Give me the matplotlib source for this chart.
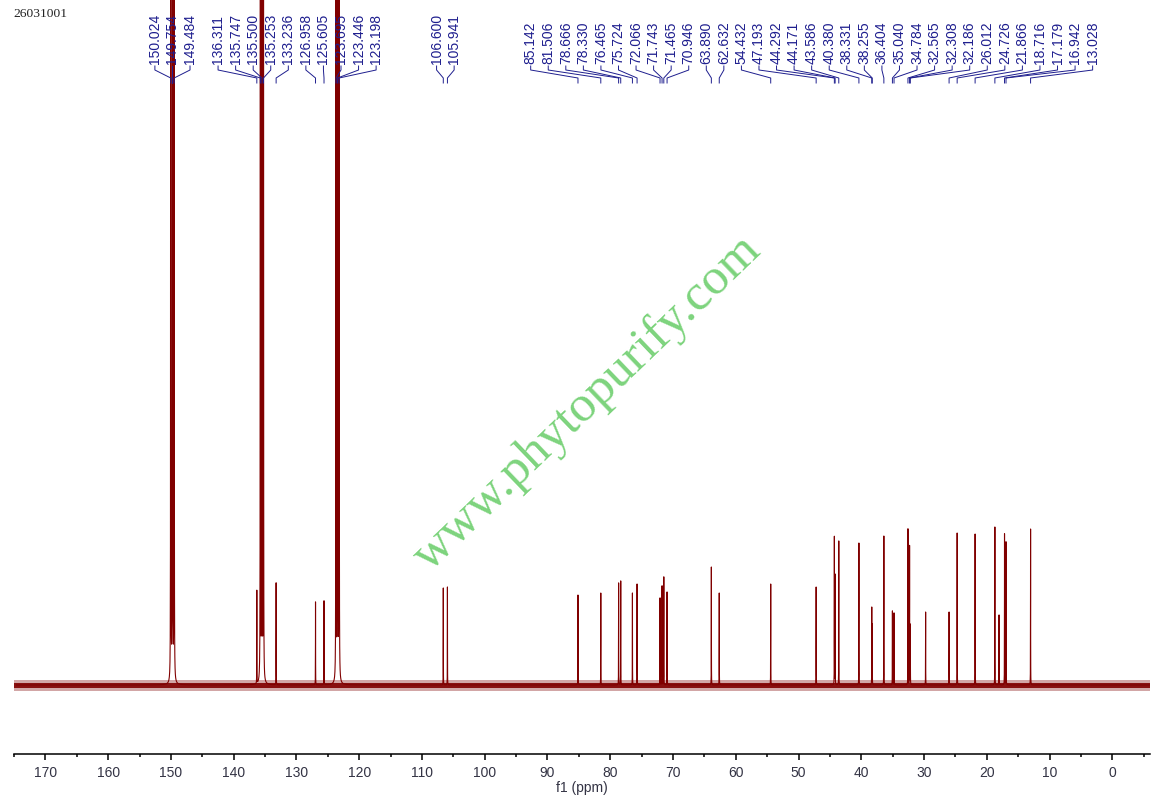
import numpy as np
import matplotlib
matplotlib.use("Agg")
import matplotlib.pyplot as plt
from matplotlib.transforms import blended_transform_factory

# ---------------- data ----------------
sample_id = "26031001"
watermark = "www.phytopurify.com"

# peak positions (ppm) and heights (arbitrary intensity units)
peak_ppm = [150.024, 149.754, 149.484, 136.311, 135.747, 135.500, 135.253, 133.236,
            126.958, 125.605, 123.695, 123.446, 123.198, 106.600, 105.941, 85.142,
            81.506, 78.666, 78.330, 76.465, 75.724, 72.066, 71.743, 71.465, 70.946,
            63.890, 62.632, 54.432, 47.193, 44.292, 44.171, 43.586, 40.380, 38.331,
            38.255, 36.404, 35.040, 34.784, 32.565, 32.308, 32.186, 29.75, 26.012,
            24.726, 21.866, 18.716, 18.05, 17.179, 16.942, 13.028]
peak_height = [30000, 40000, 30000, 93, 30000, 40000, 30000, 102,
               83, 84, 30000, 40000, 30000, 97, 98, 90,
               92, 102, 104, 92, 101, 87, 99, 108, 93,
               118, 92, 101, 98, 148, 110, 144, 142, 77,
               60, 149, 74, 72, 156, 139, 60, 73, 73,
               152, 151, 158, 70, 151, 143, 156]
solvent_ppm = [150.024, 149.754, 149.484, 135.747, 135.500, 135.253, 123.695, 123.446, 123.198]

# peak labels printed above the spectrum
label_ppm = [150.024, 149.754, 149.484, 136.311, 135.747, 135.500, 135.253, 133.236,
             126.958, 125.605, 123.695, 123.446, 123.198, 106.600, 105.941, 85.142,
             81.506, 78.666, 78.330, 76.465, 75.724, 72.066, 71.743, 71.465, 70.946,
             63.890, 62.632, 54.432, 47.193, 44.292, 44.171, 43.586, 40.380, 38.331,
             38.255, 36.404, 35.040, 34.784, 32.565, 32.308, 32.186, 26.012, 24.726,
             21.866, 18.716, 17.179, 16.942, 13.028]

x_ticks = list(range(170, -1, -10))

# ---------------- figure ----------------
W, H = 1161, 807
fig = plt.figure(figsize=(W / 100, H / 100), dpi=100)
ax = fig.add_axes([14 / W, 53 / H, 1136 / W, 754 / H])
ax.set_xlim(174.6, -6.0)
ax.set_ylim(-69, 685)

# spectrum built from the peak list (Lorentzian lines)
grid = np.arange(-6.0, 174.6, 0.004)
x = np.sort(np.concatenate([grid, np.array(peak_ppm)]))
y = np.zeros_like(x)
for p, h in zip(peak_ppm, peak_height):
    hw = 0.0032 if p in solvent_ppm else 0.01
    y += h * hw ** 2 / ((x - p) ** 2 + hw ** 2)

dark_red = "#800000"
# baseline noise band
ax.axhspan(-5.5, 5.5, color=dark_red, alpha=0.35, lw=0)
ax.axhspan(-2.5, 2.5, color=dark_red, alpha=0.9, lw=0)
ax.plot(x, y, color=dark_red, lw=0.8)

# axes styling
for s in ["left", "right", "top"]:
    ax.spines[s].set_visible(False)
ax.spines["bottom"].set_linewidth(1.1)
ax.set_yticks([])
ax.set_xticks(x_ticks)
ax.set_xticks(np.arange(175, -6, -5), minor=True)
ax.tick_params(axis="x", which="major", direction="out", length=4.5, width=1.1,
               pad=4, labelsize=10, labelcolor="#333344")
ax.tick_params(axis="x", which="minor", direction="out", length=2.5, width=1.1)
for t in ax.get_xticklabels():
    t.set_fontfamily("Liberation Sans")
ax.set_xlabel("f1 (ppm)", fontsize=10, family="Liberation Sans", color="#333344", labelpad=1)

# ---------------- peak labels (spread to avoid overlap) ----------------
px_per_ppm = 1136 / (174.6 + 6.0)
d = 17.6 / px_per_ppm  # label spacing in ppm
u_ideal = [-p for p in label_ppm]  # increasing left to right

blocks = []
for i, v in enumerate(u_ideal):
    blocks.append([v - i * d, 1])
    while len(blocks) > 1 and blocks[-2][0] / blocks[-2][1] > blocks[-1][0] / blocks[-1][1]:
        s, c = blocks.pop()
        blocks[-1][0] += s
        blocks[-1][1] += c
u_lab = []
i = 0
for s, c in blocks:
    m = s / c
    for _ in range(c):
        u_lab.append(m + i * d)
        i += 1
lab_ppm = [-u for u in u_lab]

trans = blended_transform_factory(ax.transData, ax.transAxes)
def frac(ypx):
    return (754 - ypx) / 754

navy = "#1e1e8e"
for lp, pp in zip(lab_ppm, label_ppm):
    ax.text(lp, frac(64), f"{pp:.3f}", rotation=90, ha="center", va="bottom",
            fontsize=10, family="Liberation Sans", color=navy, transform=trans,
            clip_on=False)
    ax.plot([lp, lp, pp, pp], [frac(66), frac(70), frac(78), frac(83)], color=navy,
            lw=0.7, transform=trans, clip_on=False)

# sample id and watermark
fig.text(13 / W, 1 - 14 / H, sample_id, fontsize=9.7, family="Liberation Serif",
         ha="left", va="center", color="#222222")
fig.text(587 / W, 1 - 403 / H, watermark, fontsize=37, family="Liberation Serif",
         rotation=43.8, ha="center", va="center", color="#66cc66", alpha=0.85,
         rotation_mode="anchor")

fig.savefig("out.png", dpi=100)
